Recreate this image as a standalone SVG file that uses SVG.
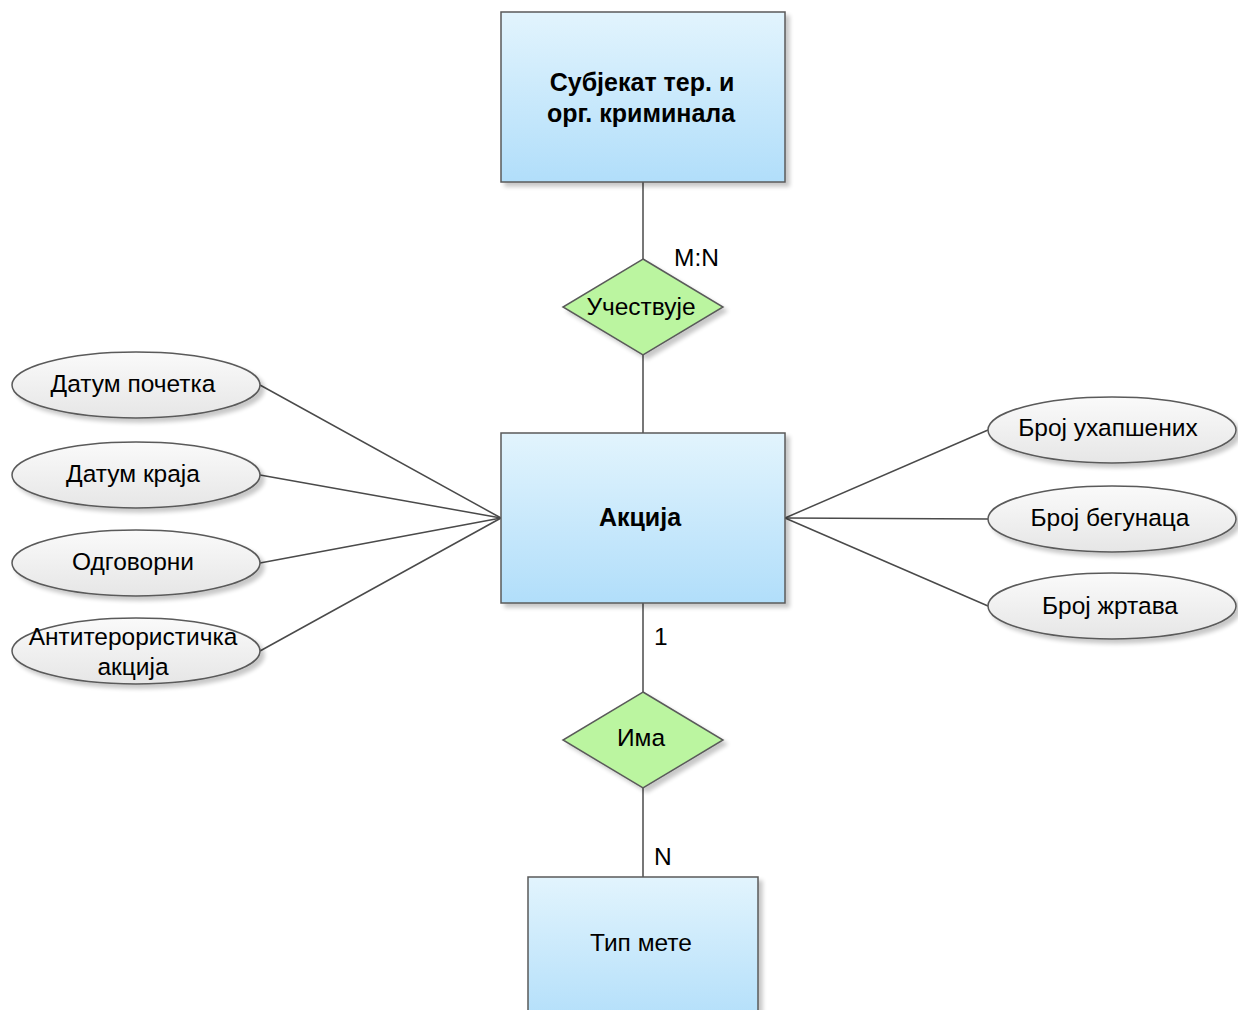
<svg xmlns="http://www.w3.org/2000/svg" width="1238" height="1010" viewBox="0 0 1238 1010">
  <style>
    .ent { stroke: #5a5a5a; stroke-width: 1.5; fill: url(#entFill); filter: url(#shadow); }
    .rel { stroke: #5a5a5a; stroke-width: 1.5; fill: #bbf5a0; filter: url(#shadow); }
    .attr { stroke: #5a5a5a; stroke-width: 1.5; fill: url(#attrFill); filter: url(#shadow); }
    .conn { stroke: #4a4a4a; stroke-width: 1.5; fill: none; }
    text { font-family: "Liberation Sans", Arial, sans-serif; font-size: 24.5px; fill: #000; text-anchor: middle; }
    .bold { font-weight: bold; font-size: 25px; }
    .card { text-anchor: start; }
  </style>
  <defs>
    <linearGradient id="entFill" x1="0" y1="0" x2="0" y2="1">
      <stop offset="0" stop-color="#e2f4fd"/>
      <stop offset="1" stop-color="#b1defa"/>
    </linearGradient>
    <linearGradient id="attrFill" x1="0" y1="0" x2="0" y2="1">
      <stop offset="0" stop-color="#fafafa"/>
      <stop offset="1" stop-color="#e6e6e6"/>
    </linearGradient>
    <filter id="shadow" x="-10%" y="-10%" width="125%" height="125%">
      <feGaussianBlur in="SourceAlpha" stdDeviation="2"/>
      <feOffset dx="4" dy="4" result="b"/>
      <feComponentTransfer><feFuncA type="linear" slope="0.22"/></feComponentTransfer>
      <feMerge><feMergeNode/><feMergeNode in="SourceGraphic"/></feMerge>
    </filter>
  </defs>

  <!-- connectors -->
  <g id="connectors">
    <line class="conn" x1="643" y1="182" x2="643" y2="259"/>
    <line class="conn" x1="643" y1="355" x2="643" y2="433"/>
    <line class="conn" x1="643" y1="603" x2="643" y2="692"/>
    <line class="conn" x1="643" y1="788" x2="643" y2="877"/>
    <line class="conn" x1="260" y1="385" x2="501" y2="518"/>
    <line class="conn" x1="260" y1="475" x2="501" y2="518"/>
    <line class="conn" x1="260" y1="563" x2="501" y2="518"/>
    <line class="conn" x1="260" y1="651" x2="501" y2="518"/>
    <line class="conn" x1="785" y1="518" x2="988" y2="430"/>
    <line class="conn" x1="785" y1="518" x2="988" y2="519"/>
    <line class="conn" x1="785" y1="518" x2="988" y2="606"/>
    <text class="card" x="674" y="266">M:N</text>
    <text class="card" x="654" y="645">1</text>
    <text class="card" x="654" y="865">N</text>
  </g>

  <g id="subjekat">
    <rect class="ent" x="501" y="12" width="284" height="170"/>
    <text class="bold" x="642" y="91">Субјекат тер. и</text>
    <text class="bold" x="641" y="122">орг. криминала</text>
  </g>

  <g id="ucestvuje">
    <polygon class="rel" points="643,259 723,307 643,355 563,307"/>
    <text x="641" y="315">Учествује</text>
  </g>

  <g id="akcija">
    <rect class="ent" x="501" y="433" width="284" height="170"/>
    <text class="bold" x="640" y="526">Акција</text>
  </g>

  <g id="ima">
    <polygon class="rel" points="643,692 723,740 643,788 563,740"/>
    <text x="641" y="746">Има</text>
  </g>

  <g id="tip-mete">
    <rect class="ent" x="528" y="877" width="230" height="150"/>
    <text x="641" y="951">Тип мете</text>
  </g>

  <g id="datum-pocetka">
    <ellipse class="attr" cx="136" cy="385" rx="124" ry="33"/>
    <text x="133" y="392">Датум почетка</text>
  </g>
  <g id="datum-kraja">
    <ellipse class="attr" cx="136" cy="475" rx="124" ry="33"/>
    <text x="133" y="482">Датум краја</text>
  </g>
  <g id="odgovorni">
    <ellipse class="attr" cx="136" cy="563" rx="124" ry="33"/>
    <text x="133" y="570">Одговорни</text>
  </g>
  <g id="antiteroristicka">
    <ellipse class="attr" cx="136" cy="651" rx="124" ry="33"/>
    <text x="133" y="645">Антитерористичка</text>
    <text x="133" y="675">акција</text>
  </g>

  <g id="broj-uhapsenih">
    <ellipse class="attr" cx="1112" cy="430" rx="124" ry="33"/>
    <text x="1108" y="436">Број ухапшених</text>
  </g>
  <g id="broj-begunaca">
    <ellipse class="attr" cx="1112" cy="519" rx="124" ry="33"/>
    <text x="1110" y="526">Број бегунаца</text>
  </g>
  <g id="broj-zrtava">
    <ellipse class="attr" cx="1112" cy="606" rx="124" ry="33"/>
    <text x="1110" y="614">Број жртава</text>
  </g>
</svg>
